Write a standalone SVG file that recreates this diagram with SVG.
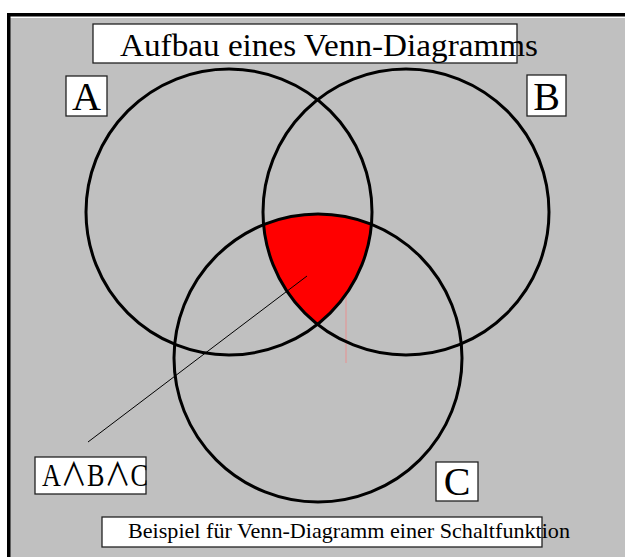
<svg xmlns="http://www.w3.org/2000/svg" width="625" height="557" viewBox="0 0 625 557">
<defs>
<style>
.lbl{fill:#fff;stroke:#222;stroke-width:1.3}
.t{font-family:"Liberation Serif","Times New Roman","Noto Sans CJK JP",serif;fill:#000}
.c{fill:none;stroke:#000;stroke-width:3}
</style>
<clipPath id="cA"><circle cx="229" cy="212" r="143"/></clipPath>
<clipPath id="cB"><circle cx="406" cy="212" r="143"/></clipPath>
</defs>
<rect x="0" y="0" width="625" height="557" fill="#fff"/>
<rect x="10" y="18" width="615" height="539" fill="#c0c0c0"/>
<rect x="7" y="13" width="618" height="3.5" fill="#000"/>
<rect x="7" y="13" width="3.5" height="544" fill="#000"/>
<g id="connectors">
<line x1="346" y1="215" x2="346" y2="363" stroke="#e89090" stroke-width="1"/>
</g>
<g id="region-abc" clip-path="url(#cA)">
<g clip-path="url(#cB)"><circle cx="318" cy="358" r="144" fill="#ff0000"/></g>
</g>
<g id="circle-a"><circle class="c" cx="229" cy="212" r="143"/></g>
<g id="circle-b"><circle class="c" cx="406" cy="212" r="143"/></g>
<g id="circle-c"><circle class="c" cx="318" cy="358" r="144"/></g>
<g id="pointer">
<line x1="88" y1="442" x2="307" y2="276" stroke="#000" stroke-width="1"/>
</g>
<g id="title"><rect class="lbl" x="93" y="24" width="424" height="39"/><text class="t" x="120" y="56" font-size="32" textLength="418" lengthAdjust="spacingAndGlyphs">Aufbau eines Venn-Diagramms</text></g>
<g id="label-a"><rect class="lbl" x="66" y="76" width="41" height="40"/><text class="t" x="86.5" y="110" font-size="40" text-anchor="middle">A</text></g>
<g id="label-b"><rect class="lbl" x="527" y="75" width="39" height="41"/><text class="t" x="546.5" y="110" font-size="40" text-anchor="middle">B</text></g>
<g id="label-c"><rect class="lbl" x="436" y="462" width="42" height="39"/><text class="t" x="457" y="495" font-size="40" text-anchor="middle">C</text></g>
<g id="label-abc"><rect class="lbl" x="35" y="457" width="111" height="37"/><text class="t" x="42" y="486" font-size="32" textLength="106" lengthAdjust="spacingAndGlyphs">A∧B∧C</text></g>
<g id="caption"><rect class="lbl" x="102" y="517" width="440" height="30"/><text class="t" x="128" y="538" font-size="21" textLength="442" lengthAdjust="spacingAndGlyphs">Beispiel für Venn-Diagramm einer Schaltfunktion</text></g>
</svg>
